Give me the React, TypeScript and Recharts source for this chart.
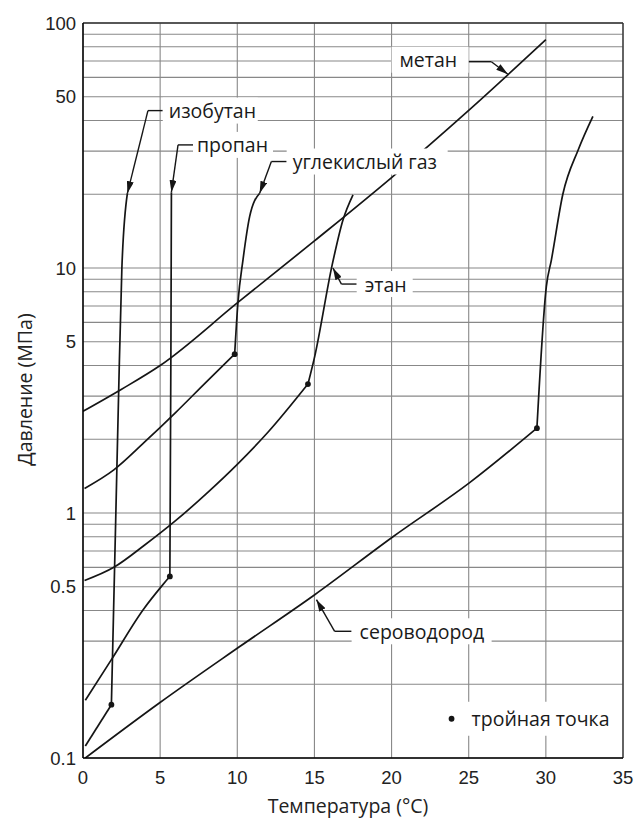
import React from "react";
import {
  ComposedChart,
  Line,
  Scatter,
  XAxis,
  YAxis,
  CartesianGrid,
  ReferenceLine,
  ReferenceDot,
} from "recharts";

type Pt = { t: number; p: number };
const toPts = (rows: number[][]): Pt[] => rows.map(([t, p]) => ({ t, p }));

// axes
const xTicks = [0, 5, 10, 15, 20, 25, 30, 35];
const yTicks = [
  0.1, 0.2, 0.3, 0.4, 0.5, 0.6, 0.7, 0.8, 0.9,
  1, 2, 3, 4, 5, 6, 7, 8, 9,
  10, 20, 30, 40, 50, 60, 70, 80, 90,
  100,
];
const yLabeled = [0.1, 0.5, 1, 5, 10, 50, 100];

// hydrate curves, [temperature °C, pressure MPa]
const methane = [[0, 2.6], [2.5, 3.2], [5, 4.0], [10, 7.2], [15, 12.9], [20, 23.4], [25, 44], [30, 85.5]];
const isobutaneLow = [[0.15, 0.112], [1.84, 0.165]];
const isobutaneHigh = [[1.84, 0.165], [2.12, 0.94], [2.31, 3.1], [2.52, 10], [2.88, 20.2]];
const propaneLow = [[0.15, 0.172], [1.84, 0.252], [3.9, 0.403], [5.18, 0.51], [5.63, 0.551]];
const propaneHigh = [[5.63, 0.551], [5.7, 5], [5.73, 20.4]];
const co2Low = [[0.1, 1.26], [2, 1.5], [4, 1.95], [6, 2.57], [8, 3.43], [9.83, 4.45]];
const co2High = [[9.83, 4.45], [10.04, 7.2], [10.37, 10.8], [10.8, 16.2], [11.45, 20.2]];
const ethaneLow = [
  [0.1, 0.53], [2, 0.6], [4, 0.74], [6, 0.93], [8, 1.2], [10, 1.58], [12, 2.14], [14.58, 3.36],
];
const ethaneHigh = [[14.58, 3.36], [15.02, 4.36], [16.15, 10.3], [16.85, 15.7], [17.5, 19.9]];
const h2sLow = [
  [0.15, 0.1], [4.97, 0.168], [10.16, 0.285], [15.02, 0.464], [20.09, 0.8], [25.06, 1.33], [29.42, 2.22],
];
const h2sHigh = [[29.42, 2.22], [30.03, 8.4], [30.36, 10.8], [31.1, 20], [32.1, 30.4], [33.05, 41.6]];

const triplePoints = [[1.84, 0.165], [5.63, 0.551], [9.83, 4.45], [14.58, 3.36], [29.42, 2.22]];

const curves = [
  methane, isobutaneLow, isobutaneHigh, propaneLow, propaneHigh,
  co2Low, co2High, ethaneLow, ethaneHigh, h2sLow, h2sHigh,
];

// labels: box anchored at its left edge / vertical centre (data coords)
const labels = [
  { text: "изобутан", t: 5.17, p: 43.9, w: 95, pad: 6 },
  { text: "пропан", t: 7.13, p: 31.8, w: 80, pad: 4 },
  { text: "углекислый газ", t: 13.2, p: 27.2, w: 161, pad: 6 },
  { text: "метан", t: 20.0, p: 70.8, w: 77, pad: 8 },
  { text: "этан", t: 17.74, p: 8.6, w: 56, pad: 8 },
  { text: "сероводород", t: 17.41, p: 0.329, w: 140, pad: 8 },
];

// leader lines: [t1, p1, t2, p2, arrow]
const leaders: [number, number, number, number, boolean][] = [
  [4.21, 43.9, 5.17, 43.9, false],
  [4.21, 43.9, 2.88, 20.2, true],
  [6.16, 31.8, 7.13, 31.8, false],
  [6.16, 31.8, 5.73, 20.4, true],
  [12.21, 27.2, 13.2, 27.2, false],
  [12.21, 27.2, 11.45, 20.2, true],
  [24.99, 69.5, 26.47, 69.5, false],
  [26.47, 69.5, 27.54, 61.8, true],
  [16.75, 8.6, 17.74, 8.6, false],
  [16.75, 8.6, 16.2, 10.0, true],
  [16.31, 0.329, 17.41, 0.329, false],
  [16.31, 0.329, 15.13, 0.443, true],
];

const legendAt = { t: 23.11, p: 0.1446 };

const INK = "#151515";
const LABEL_FONT = "'Open Sans', 'Noto Sans', sans-serif";
const TICK_FONT = "'Liberation Sans', Arial, sans-serif";

export default function App() {
  return (
    <div style={{ position: "absolute", left: 0, top: 0, width: 634, height: 819, background: "#fff" }}>
      <svg width={0} height={0} style={{ position: "absolute" }}>
        <defs>
          <marker
            id="arrowhead"
            viewBox="0 0 12 7"
            refX={12}
            refY={3.5}
            markerWidth={12}
            markerHeight={7}
            markerUnits="userSpaceOnUse"
            orient="auto"
          >
            <path d="M0,0 L12,3.5 L0,7 Z" fill={INK} />
          </marker>
        </defs>
      </svg>
      <ComposedChart width={634} height={819} margin={{ top: 23, right: 11, bottom: 0, left: 0 }}>
        <CartesianGrid stroke="#888" strokeWidth={1.1} />
        <XAxis
          type="number"
          dataKey="t"
          domain={[0, 35]}
          ticks={xTicks}
          allowDataOverflow
          height={61}
          tickSize={0}
          tickMargin={13}
          stroke="#000"
          strokeWidth={1.5}
          tick={{ fontFamily: TICK_FONT, fontSize: 18.5, fill: "#222" }}
          label={{
            content: (props: any) => {
              const vb = props.viewBox || { x: 83, y: 758, width: 540 };
              return (
                <text
                  x={vb.x + vb.width / 2 - 5}
                  y={vb.y + 55}
                  textAnchor="middle"
                  fontFamily={LABEL_FONT}
                  fontSize={19.5}
                  fill="#222"
                >
                  Температура (°C)
                </text>
              );
            },
          }}
        />
        <YAxis
          type="number"
          dataKey="p"
          scale="log"
          domain={[0.1, 100]}
          ticks={yTicks}
          interval={0}
          allowDataOverflow
          width={83}
          tickSize={0}
          tickMargin={7}
          stroke="#000"
          strokeWidth={1.5}
          tick={{ fontFamily: TICK_FONT, fontSize: 18.5, fill: "#222" }}
          tickFormatter={(v: number) => (yLabeled.includes(v) ? String(v) : "")}
          label={{
            content: (props: any) => {
              const vb = props.viewBox || { x: 0, y: 23, width: 83, height: 735 };
              const cx = vb.x + 24;
              const cy = vb.y + vb.height / 2 - 1;
              return (
                <text
                  x={cx}
                  y={cy}
                  transform={`rotate(-90 ${cx} ${cy})`}
                  textAnchor="middle"
                  dominantBaseline="central"
                  fontFamily={LABEL_FONT}
                  fontSize={19.5}
                  fill="#222"
                >
                  Давление (МПа)
                </text>
              );
            },
          }}
        />
        <ReferenceLine y={100} stroke="#333" strokeWidth={1.3} />
        <ReferenceLine x={35} stroke="#333" strokeWidth={1.3} />

        {curves.map((c, i) => (
          <Line
            key={"c" + i}
            data={toPts(c)}
            dataKey="p"
            type="monotone"
            stroke={INK}
            strokeWidth={1.7}
            dot={false}
            activeDot={false}
            isAnimationActive={false}
          />
        ))}

        <Scatter
          data={toPts(triplePoints)}
          fill={INK}
          isAnimationActive={false}
          shape={(props: any) => <circle cx={props.cx} cy={props.cy} r={2.9} fill={INK} />}
        />

        {leaders.map(([t1, p1, t2, p2, arrow], i) => (
          <ReferenceLine
            key={"l" + i}
            segment={[{ x: t1, y: p1 }, { x: t2, y: p2 }]}
            shape={(props: any) => (
              <line
                x1={props.x1}
                y1={props.y1}
                x2={props.x2}
                y2={props.y2}
                stroke={INK}
                strokeWidth={1.4}
                markerEnd={arrow ? "url(#arrowhead)" : undefined}
              />
            )}
          />
        ))}

        {labels.map((a, i) => (
          <ReferenceDot
            key={"t" + i}
            x={a.t}
            y={a.p}
            r={1}
            zIndex={2000}
            shape={(props: any) => (
              <g>
                <rect x={props.cx} y={props.cy - 13} width={a.w} height={26} fill="#fff" />
                <text
                  x={props.cx + a.pad}
                  y={props.cy}
                  dominantBaseline="central"
                  fontFamily={LABEL_FONT}
                  fontSize={19.5}
                  fill="#1a1a1a"
                >
                  {a.text}
                </text>
              </g>
            )}
          />
        ))}

        <ReferenceDot
          x={legendAt.t}
          y={legendAt.p}
          r={1}
          zIndex={2000}
          shape={(props: any) => (
            <g>
              <rect x={props.cx} y={props.cy - 17} width={176} height={34} fill="#fff" />
              <circle cx={props.cx + 12} cy={props.cy} r={2.9} fill={INK} />
              <text
                x={props.cx + 32}
                y={props.cy}
                dominantBaseline="central"
                fontFamily={LABEL_FONT}
                fontSize={19.5}
                fill="#1a1a1a"
              >
                тройная точка
              </text>
            </g>
          )}
        />
      </ComposedChart>
    </div>
  );
}
